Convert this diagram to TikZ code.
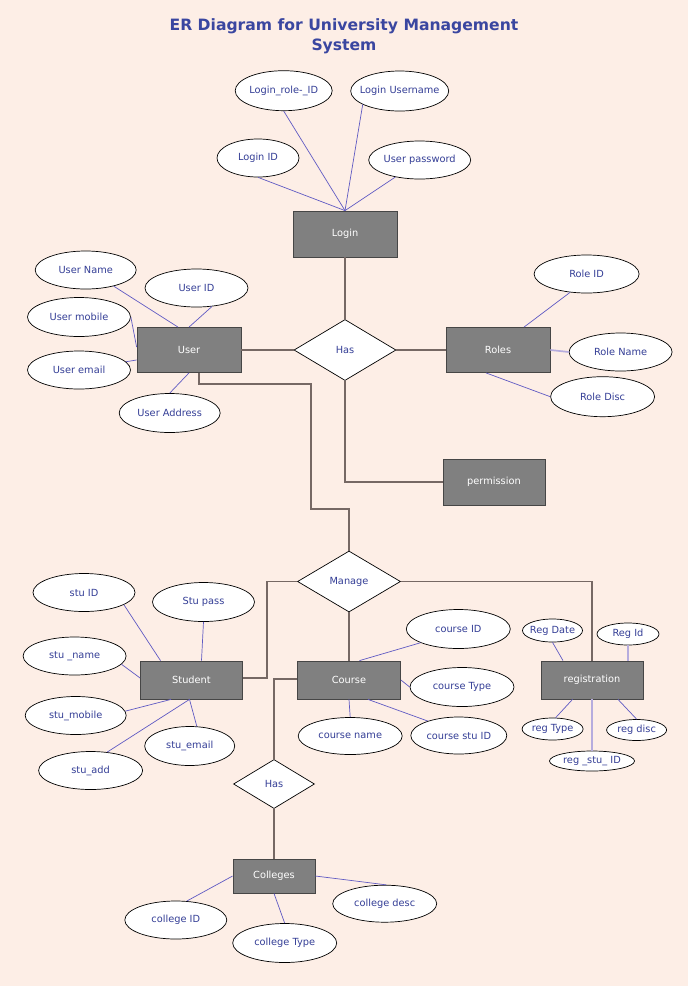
\documentclass[tikz,border=0pt]{standalone}
\usepackage{fontspec}
\setmainfont{DejaVu Sans}
\usepackage{xcolor}
\usepackage{tikz}
\usetikzlibrary{shapes.geometric}
\definecolor{pagebg}{RGB}{253, 238, 230}
\definecolor{titleblue}{RGB}{58, 70, 160}
\definecolor{textblue}{RGB}{52, 62, 150}
\definecolor{entitygray}{RGB}{128, 128, 128}
\definecolor{edgegray}{RGB}{70, 70, 70}
\definecolor{relbrown}{RGB}{118, 104, 100}
\definecolor{attrviolet}{RGB}{95, 90, 195}
\definecolor{lavender}{RGB}{182, 172, 222}

\begin{document}
\begin{tikzpicture}[
    x=1pt, y=-1pt,
    entity/.style={rectangle, draw=edgegray, line width=0.8pt, fill=entitygray, minimum width=104pt, minimum height=46pt, inner sep=0pt, text=white, font=\fontsize{9.8}{11}\selectfont},
    relation/.style={diamond, draw=black, line width=0.7pt, fill=white, minimum width=102pt, minimum height=61pt, inner sep=0pt, text=textblue, font=\fontsize{9.8}{11}\selectfont},
    attr/.style={ellipse, draw=black, line width=0.7pt, fill=white, minimum width=103pt, minimum height=38pt, inner xsep=-7pt, inner ysep=0pt, text=textblue, font=\fontsize{9.8}{11}\selectfont},
    smallattr/.style={attr, minimum width=61pt, minimum height=22pt},
    rel/.style={draw=relbrown, line width=1.4pt},
    attrline/.style={draw=attrviolet, line width=0.7pt},
    attrdouble/.style={draw=lavender, line width=1.7pt}
]

    % Page background
    \fill[pagebg] (0,0) rectangle (688,986);
    \useasboundingbox (0,0) rectangle (688,986);

    % Title
    \node (title) [align=center, text=titleblue, font=\fontsize{15.6}{20}\selectfont\bfseries] at (344,36) {ER Diagram for University Management\\System};

    % Entities
    \node (login) [entity] at (345,234) {Login};
    \node (user) [entity, minimum height=45pt] at (189,350) {User};
    \node (roles) [entity, minimum height=45pt] at (498,350) {Roles};
    \node (perm) [entity, minimum width=102pt] at (494,482) {permission};
    \node (student) [entity, minimum width=102pt, minimum height=38pt] at (191.5,680) {Student};
    \node (course) [entity, minimum width=103pt, minimum height=38pt] at (349,680) {Course};
    \node (reg) [entity, minimum width=102pt, minimum height=38pt] at (592,680) {registration};
    \node (colleges) [entity, minimum width=82pt, minimum height=34pt] at (274,876) {Colleges};

    % Relationships
    \node (has_top) [relation] at (345,350) {Has};
    \node (manage) [relation, minimum width=103pt] at (349,581.5) {Manage};
    \node (has_low) [relation, minimum width=81pt, minimum height=49pt] at (274,784) {Has};

    % Login attributes
    \node (a_lrole) [attr, minimum width=97pt, minimum height=40pt] at (283.7,90.7) {Login\_role-\_ID};
    \node (a_luser) [attr, minimum width=98pt, minimum height=40pt] at (399.7,91) {Login Username};
    \node (a_lid) [attr, minimum width=82pt] at (258,158) {Login ID};
    \node (a_lpass) [attr, minimum width=102pt] at (419.7,160) {User password};

    % User attributes
    \node (a_uname) [attr, minimum width=101pt] at (85.7,270) {User Name};
    \node (a_uid) [attr] at (196.5,288) {User ID};
    \node (a_umob) [attr, minimum height=39pt] at (79,317) {User mobile};
    \node (a_umail) [attr] at (79,370) {User email};
    \node (a_uaddr) [attr, minimum width=101pt, minimum height=39pt] at (169.7,413) {User Address};

    % Roles attributes
    \node (a_rid) [attr, minimum width=105pt] at (586.6,274) {Role ID};
    \node (a_rname) [attr] at (620.6,352) {Role Name};
    \node (a_rdisc) [attr, minimum width=104pt, minimum height=40pt] at (602.6,396.7) {Role Disc};

    % Student attributes
    \node (a_sid) [attr, minimum width=102pt] at (84,592.5) {stu ID};
    \node (a_spass) [attr, minimum width=102pt, minimum height=39pt] at (203.5,602) {Stu pass};
    \node (a_sname) [attr] at (74.6,656) {stu \_name};
    \node (a_smob) [attr, minimum width=101pt] at (75.7,715.5) {stu\_mobile};
    \node (a_smail) [attr, minimum width=90pt, minimum height=39pt] at (189.7,746) {stu\_email};
    \node (a_sadd) [attr, minimum width=104pt] at (90.6,770.5) {stu\_add};

    % Course attributes
    \node (a_cid) [attr, minimum width=104pt, minimum height=39pt] at (458.3,629) {course ID};
    \node (a_ctype) [attr, minimum width=104pt, minimum height=39pt] at (462,687) {course Type};
    \node (a_cname) [attr, minimum width=104pt, minimum height=37pt] at (350.2,736) {course name};
    \node (a_cstu) [attr, minimum width=96pt, minimum height=37pt] at (458.8,735.5) {course stu ID};

    % Registration attributes
    \node (a_rgdate) [smallattr, minimum width=60pt, minimum height=23pt] at (552.5,630.5) {Reg Date};
    \node (a_rgid) [smallattr, minimum width=62pt] at (628,634) {Reg Id};
    \node (a_rgtype) [smallattr] at (552.6,729) {reg Type};
    \node (a_rgdisc) [smallattr, minimum width=60pt, minimum height=21pt] at (636.6,730) {reg disc};
    \node (a_rgstu) [smallattr, minimum width=85pt, minimum height=20pt] at (592,761) {reg \_stu\_ ID};

    % College attributes
    \node (a_colid) [attr, minimum width=102pt] at (175.8,920) {college ID};
    \node (a_coltype) [attr, minimum width=104pt, minimum height=39pt] at (284.7,943) {college Type};
    \node (a_coldesc) [attr, minimum width=104pt, minimum height=37pt] at (384.7,903.7) {college desc};

    % Relationship connectors
    \draw [rel] (login.south) -- (has_top.north);
    \draw [rel] (user.east) -- (has_top.west);
    \draw [rel] (has_top.east) -- (roles.west);
    \draw [rel] (has_top.south) |- (perm.west);
    \draw [rel] ([xshift=10pt]user.south) -- ++(0,11) -| ++(112,125) -| (manage.north);
    \draw [rel] ([yshift=2pt]student.east) -- ++(24,0) |- (manage.west);
    \draw [rel] (manage.east) -| (reg.north);
    \draw [rel] (manage.south) -- (course.north);
    \draw [rel] ([yshift=1pt]course.west) -| (has_low.north);
    \draw [rel] (has_low.south) -- (colleges.north);

    % Login attribute lines
    \draw [attrline] (a_lid.south) -- (login.north);
    \draw [attrline] (a_lrole.south) -- (login.north);
    \draw [attrline] (a_luser.200) -- (login.north);
    \draw [attrline] (a_lpass.215) -- (login.north);

    % User attribute lines
    \draw [attrline] (a_uname.330) -- ([xshift=-11pt]user.north);
    \draw [attrline] (a_uid.310) -- (user.north);
    \draw [attrline] (a_umob.east) -- ([yshift=3pt]user.west);
    \draw [attrline] (a_umail.10) -- ([yshift=-10pt]user.west);
    \draw [attrline] (a_uaddr.north) -- (user.south);

    % Roles attribute lines
    \draw [attrline] (a_rid.228) -- ([xshift=26pt]roles.north);
    \draw [attrdouble] (roles.east) -- (a_rname.west);
    \draw [attrline] ([xshift=-12pt]roles.south) -- (a_rdisc.west);

    % Student attribute lines
    \draw [attrline] (a_sid.343) -- ([xshift=-31pt]student.north);
    \draw [attrline] (a_spass.south) -- ([xshift=10pt]student.north);
    \draw [attrline] (a_sname.350) -- ([yshift=2pt]student.west);
    \draw [attrline] (a_smob.5) -- ([xshift=-20.5pt]student.south);
    \draw [attrline] (a_smail.70) -- ([xshift=-2pt]student.south);
    \draw [attrline] (a_sadd.48) -- ([xshift=-2pt]student.south);

    % Course attribute lines
    \draw [attrline] (a_cid.200) -- ([xshift=10.5pt]course.north);
    \draw [attrline] (course.east) -- (a_ctype.west);
    \draw [attrline] (course.south) -- (a_cname.north);
    \draw [attrline] ([xshift=19pt]course.south) -- (a_cstu.155);

    % Registration attribute lines
    \draw [attrline] (a_rgdate.south) -- ([xshift=-29pt]reg.north);
    \draw [attrdouble] (a_rgid.south) -- ([xshift=36pt]reg.north);
    \draw [attrline] ([xshift=-19.5pt]reg.south) -- (a_rgtype.75);
    \draw [attrline] ([xshift=26pt]reg.south) -- (a_rgdisc.north);
    \draw [attrdouble] (reg.south) -- (a_rgstu.north);

    % College attribute lines
    \draw [attrline] (a_colid.60) -- (colleges.west);
    \draw [attrline] (colleges.south) -- (a_coltype.north);
    \draw [attrline] (colleges.east) -- (a_coldesc.85);

\end{tikzpicture}
\end{document}
